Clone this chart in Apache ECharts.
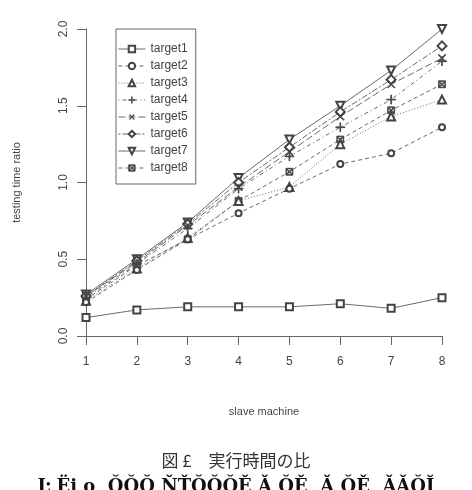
<!DOCTYPE html>
<html>
<head>
<meta charset="utf-8">
<script src="https://cdn.jsdelivr.net/npm/echarts@6/dist/echarts.min.js"></script>
<style>
  html, body { margin: 0; padding: 0; background: #fff; }
  #fig_slave_ratio { width: 472px; height: 490px; }
</style>
</head>
<body>
<div id="fig_slave_ratio"></div>
<script>
// slave machine count
var machines = [1, 2, 3, 4, 5, 6, 7, 8];
var names = ['target1', 'target2', 'target3', 'target4', 'target5', 'target6', 'target7', 'target8'];

// testing time ratio
var target1 = [0.12, 0.17, 0.19, 0.19, 0.19, 0.21, 0.18, 0.25];
var target2 = [0.22, 0.43, 0.63, 0.80, 0.96, 1.12, 1.19, 1.36];
var target3 = [0.23, 0.44, 0.64, 0.88, 0.97, 1.25, 1.43, 1.54];
var target4 = [0.25, 0.47, 0.70, 0.96, 1.17, 1.36, 1.54, 1.79];
var target5 = [0.26, 0.48, 0.72, 0.97, 1.20, 1.43, 1.64, 1.81];
var target6 = [0.26, 0.49, 0.73, 1.00, 1.23, 1.46, 1.67, 1.89];
var target7 = [0.27, 0.50, 0.74, 1.03, 1.28, 1.50, 1.73, 2.00];
var target8 = [0.24, 0.46, 0.63, 0.88, 1.07, 1.28, 1.47, 1.64];

var yTicks = ['0.0', '0.5', '1.0', '1.5', '2.0'];

var allData = [target1, target2, target3, target4, target5, target6, target7, target8];

// R-like pch / lty
var plusPath = 'path://M4.55,0H5.45V4.55H10V5.45H5.45V10H4.55V5.45H0V4.55H4.55Z';
var boxXPath = 'path://M0,0H10V10H0Z M1,1V9H9V1Z M1,1.8L1.8,1L9,8.2L8.2,9Z M9,1.8L8.2,1L1,8.2L1.8,9Z';
var symbols = [
    { s: 'emptyRect', size: 7, rot: 0 },
    { s: 'emptyCircle', size: 6, rot: 0 },
    { s: 'emptyTriangle', size: 8, rot: 0 },
    { s: plusPath, size: 9, rot: 0 },
    { s: plusPath, size: 10, rot: 45 },
    { s: 'emptyDiamond', size: 9, rot: 0 },
    { s: 'emptyTriangle', size: 8, rot: 180 },
    { s: boxXPath, size: 7, rot: 0 }
];
var dashes = ['solid', [4, 3], [1, 2], [1, 3, 4, 3], [7, 3], [2, 2, 6, 2], 'solid', [4, 3]];

var ink = '#444';

var series = [];
for (let i = 0; i < names.length; i++) {
    var pts = [];
    for (let j = 0; j < machines.length; j++) {
        pts.push([machines[j], allData[i][j]]);
    }
    series.push({
        name: names[i],
        type: 'line',
        data: pts,
        symbol: symbols[i].s,
        symbolSize: symbols[i].size,
        symbolRotate: symbols[i].rot,
        itemStyle: { color: ink, borderColor: ink, borderWidth: 0.8 },
        lineStyle: { color: ink, width: 0.8, type: dashes[i] },
        z: 10 - i,
        animation: false
    });
}

var chart = echarts.init(document.getElementById('fig_slave_ratio'));
chart.setOption({
    backgroundColor: '#fff',
    animation: false,
    textStyle: { fontFamily: 'Liberation Sans, Arial, sans-serif' },
    grid: { left: 86, right: 30, top: 29, bottom: 154 },
    legend: {
        data: names,
        orient: 'vertical',
        left: 116,
        top: 29,
        padding: [14, 8, 10, 2],
        itemWidth: 27,
        itemHeight: 8,
        itemGap: 5,
        borderColor: '#666',
        borderWidth: 1,
        lineStyle: { width: 0.8 },
        itemStyle: { borderWidth: 0.8 },
        textStyle: { fontSize: 12, color: '#444', lineHeight: 12 }
    },
    xAxis: {
        type: 'value',
        min: 1,
        max: 8,
        interval: 1,
        name: 'slave machine',
        nameLocation: 'middle',
        nameGap: 70,
        nameTextStyle: { fontSize: 11, color: '#444' },
        axisLine: { show: true, lineStyle: { color: '#666' } },
        axisTick: { show: true, length: 9, lineStyle: { color: '#666' } },
        axisLabel: { fontSize: 12, color: '#444', margin: 20 },
        splitLine: { show: false }
    },
    yAxis: {
        type: 'value',
        min: 0,
        max: 2,
        interval: 0.5,
        name: 'testing time ratio',
        nameLocation: 'middle',
        nameGap: 64,
        nameTextStyle: { fontSize: 11, color: '#444' },
        axisLine: { show: true, lineStyle: { color: '#666' } },
        axisTick: { show: true, length: 9, lineStyle: { color: '#666' } },
        axisLabel: {
            fontSize: 12,
            color: '#444',
            rotate: 90,
            margin: 16,
            formatter: function(val) {
                return yTicks[Math.round(val / 0.5)];
            }
        },
        splitLine: { show: false }
    },
    graphic: [
        {
            type: 'text',
            left: 'center',
            top: 452,
            style: {
                text: '図 £　実行時間の比',
                fontSize: 17,
                fontFamily: 'Noto Sans CJK JP',
                fill: '#333'
            }
        },
        {
            type: 'text',
            left: 'center',
            top: 478,
            style: {
                text: 'Ŀ Ëi ǫ  ǑǑǑ ŇŤǑǑǑĚ Ǎ ǑĚ  Ǎ ǑĚ  ǍǍǑĬ',
                fontSize: 18,
                fontWeight: 'bold',
                fontFamily: 'DejaVu Serif',
                fill: '#111'
            }
        }
    ],
    series: series
});
</script>
</body>
</html>
